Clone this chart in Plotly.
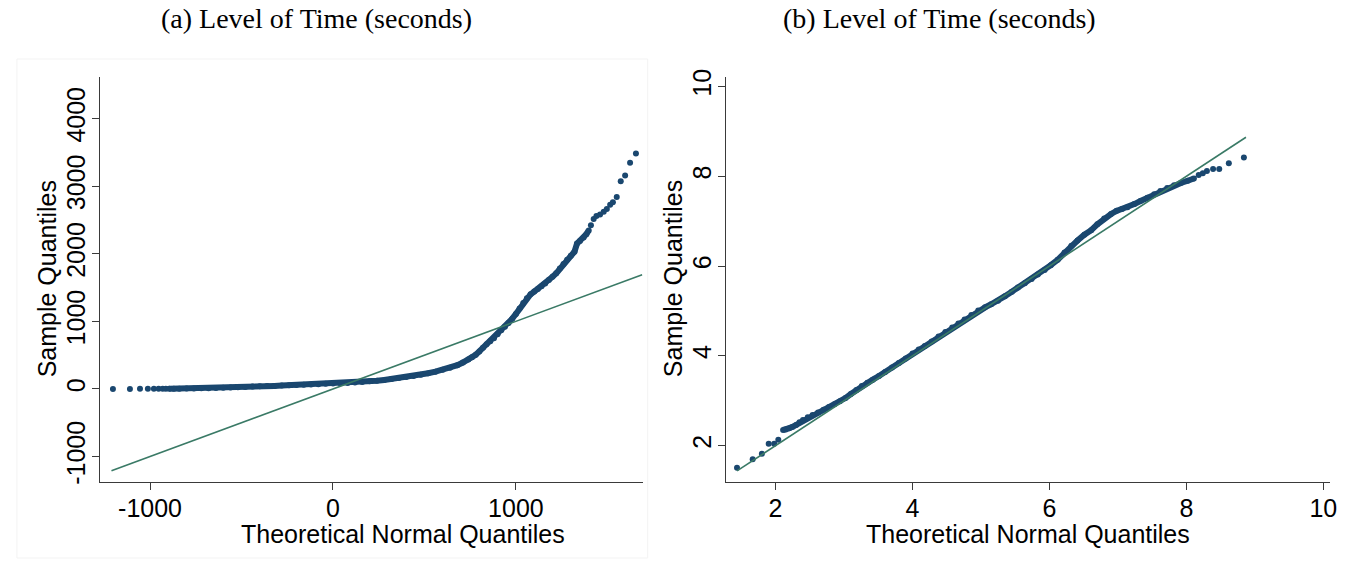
import plotly.graph_objects as go

# ---------------- data ----------------
# Panel (a): Level of Time (seconds)
a_theo = [-1203, -1110, -1055, -1012, -979, -953, -931, -914, -896,
          -870, -840, -800, -760, -720, -680, -640, -600, -560, -520,
          -480, -440, -400, -360, -320, -280, -240, -200, -160, -120,
          -80, -40, 0, 40, 80, 120, 160, 200, 240, 280, 320, 360, 400,
          440, 480, 520, 560, 600, 640, 680, 710, 740, 760, 780, 800,
          820, 840, 860, 880, 900, 920, 940, 960, 980, 1000, 1020, 1040,
          1060, 1080, 1100, 1120, 1140, 1160, 1180, 1200, 1220, 1240,
          1260, 1280, 1300, 1320, 1334, 1350, 1370, 1385, 1398, 1410,
          1425, 1440, 1460, 1480, 1497, 1515, 1530, 1551, 1573, 1597,
          1624, 1656]
a_samp = [0, 0, 1, 1, 1, 2, 2, 2, 2,
          3, 4, 5, 7, 9, 11, 13, 16, 20, 25,
          30, 35, 39, 42, 45, 49, 53, 57, 61, 66,
          71, 76, 80, 84, 88, 95, 103, 112, 122, 133, 147, 162, 177,
          193, 210, 232, 255, 283, 314, 352, 390, 435, 470, 505, 555,
          610, 660, 705, 748, 810, 870, 920, 975, 1040, 1110, 1190, 1270,
          1340, 1400, 1440, 1480, 1520, 1560, 1610, 1660, 1710, 1780,
          1850, 1910, 1970, 2030, 2150, 2190, 2240, 2290, 2345, 2420,
          2515, 2560, 2580, 2620, 2660, 2723, 2760, 2839, 3071, 3158,
          3347, 3483]
a_ref = [-1211, 1690]

# Panel (b): log level of time
b_theo = [1.437, 1.666, 1.80, 1.90, 1.98, 2.04,
          2.11, 2.15, 2.20, 2.25, 2.30, 2.35, 2.40, 2.47, 2.54, 2.62,
          2.70, 2.78, 2.86, 2.94, 3.02, 3.10, 3.18, 3.26, 3.34, 3.42,
          3.51, 3.60, 3.70, 3.80, 3.90, 4.00, 4.09, 4.18, 4.28, 4.38,
          4.48, 4.58, 4.67, 4.76, 4.86, 4.96, 5.06, 5.15, 5.25, 5.35,
          5.45, 5.54, 5.64, 5.74, 5.83, 5.93, 6.02, 6.12, 6.22, 6.32,
          6.41, 6.51, 6.61, 6.70, 6.80, 6.90, 6.98, 7.06, 7.14, 7.24,
          7.33, 7.43, 7.53, 7.62, 7.72, 7.82, 7.92, 8.02, 8.11,
          8.18, 8.24, 8.30, 8.39, 8.48, 8.62, 8.84]
b_samp = [1.51, 1.694, 1.82, 2.04, 2.04, 2.13,
          2.35, 2.36, 2.39, 2.42, 2.46, 2.52, 2.57, 2.63, 2.68, 2.74,
          2.80, 2.86, 2.92, 2.99, 3.06, 3.15, 3.24, 3.33, 3.40, 3.47,
          3.55, 3.64, 3.74, 3.84, 3.94, 4.05, 4.14, 4.22, 4.32, 4.43,
          4.53, 4.63, 4.72, 4.81, 4.91, 5.01, 5.08, 5.15, 5.23, 5.33,
          5.43, 5.52, 5.62, 5.71, 5.81, 5.91, 6.02, 6.14, 6.30, 6.45,
          6.57, 6.70, 6.80, 6.93, 7.06, 7.16, 7.23, 7.27, 7.31, 7.38,
          7.45, 7.52, 7.60, 7.67, 7.74, 7.80, 7.85, 7.90, 7.95,
          8.03, 8.07, 8.12, 8.16, 8.16, 8.29, 8.42]
b_ref = [1.437, 8.87]

a_yticks = [-1000, 0, 1000, 2000, 3000, 4000]
a_xticks = [-1000, 0, 1000]
b_yticks = [2, 4, 6, 8, 10]
b_xticks = [2, 4, 6, 8, 10]

titles = ["(a) Level of Time (seconds)", "(b) Level of Time (seconds)"]
xtitle = "Theoretical Normal Quantiles"
ytitle = "Sample Quantiles"

# ---------------- styling ----------------
W, H = 1369, 562
DOT = "#1a476f"
REF = "#3a7a66"
AX = "#3a3a3a"
FONT = "Liberation Sans, Arial, sans-serif"
FS = 25


def px(v):
    return v / W


def py(v):
    return 1 - v / H


def band(xs, ys, lo, hi):
    bx, by = [], []
    for x, y in zip(xs, ys):
        if lo <= x <= hi:
            bx.append(x)
            by.append(y)
    return bx, by


fig = go.Figure()

# panel (a)
abx, aby = band(a_theo, a_samp, -900, 1400)
fig.add_trace(go.Scatter(x=abx, y=aby, mode="lines", xaxis="x", yaxis="y",
                         line=dict(color=DOT, width=6), hoverinfo="skip", showlegend=False))
fig.add_trace(go.Scatter(x=a_theo, y=a_samp, mode="markers", xaxis="x", yaxis="y",
                         marker=dict(color=DOT, size=6, line=dict(width=0)), showlegend=False))
fig.add_trace(go.Scatter(x=a_ref, y=a_ref, mode="lines", xaxis="x", yaxis="y",
                         line=dict(color=REF, width=1.6), showlegend=False))

# panel (b)
bbx, bby = band(b_theo, b_samp, 2.1, 8.12)
fig.add_trace(go.Scatter(x=bbx, y=bby, mode="lines", xaxis="x2", yaxis="y2",
                         line=dict(color=DOT, width=6), hoverinfo="skip", showlegend=False))
fig.add_trace(go.Scatter(x=b_theo, y=b_samp, mode="markers", xaxis="x2", yaxis="y2",
                         marker=dict(color=DOT, size=6, line=dict(width=0)), showlegend=False))
fig.add_trace(go.Scatter(x=b_ref, y=b_ref, mode="lines", xaxis="x2", yaxis="y2",
                         line=dict(color=REF, width=1.6), showlegend=False))


def xax(dom, rng, ticks):
    return dict(domain=dom, range=rng, tickvals=ticks, ticktext=[str(t) for t in ticks],
                showgrid=False, zeroline=False, showline=True, linecolor=AX, linewidth=1,
                ticks="outside", ticklen=7, tickcolor=AX, tickwidth=1, ticklabelstandoff=-3,
                tickfont=dict(family=FONT, size=FS, color="black"))


def yax(dom, rng, ticks, anchor):
    return dict(domain=dom, range=rng, tickvals=ticks, ticktext=[str(t) for t in ticks],
                showgrid=False, zeroline=False, showline=True, linecolor=AX, linewidth=1,
                ticks="outside", ticklen=7, tickcolor=AX, tickwidth=1, tickangle=-90,
                ticklabelstandoff=-3,
                tickfont=dict(family=FONT, size=FS, color="black"), anchor=anchor)


ydom = [py(483), py(70)]
fig.update_layout(
    width=W, height=H, margin=dict(l=0, r=0, t=0, b=0),
    paper_bgcolor="white", plot_bgcolor="white",
    xaxis=dict(**xax([px(101), px(646)], [-1271, 1693], a_xticks), anchor="y"),
    yaxis=yax(ydom, [-1370, 4620], a_yticks, "x"),
    xaxis2=dict(**xax([px(730), px(1337)], [1.28, 10.1], b_xticks), anchor="y2"),
    yaxis2=yax(ydom, [1.2, 10.22], b_yticks, "x2"),
)

ann = []
for t, cx in zip(titles, [318, 944]):
    ann.append(dict(text=t, x=px(cx), y=py(11), xref="paper", yref="paper",
                    xanchor="center", yanchor="middle", showarrow=False,
                    font=dict(family="Liberation Serif, Times New Roman, serif", size=28, color="black")))
for cx in [405, 1033]:
    ann.append(dict(text=xtitle, x=px(cx), y=py(536), xref="paper", yref="paper",
                    xanchor="center", yanchor="middle", showarrow=False,
                    font=dict(family=FONT, size=FS, color="black")))
for cx, cy in [(47, 276), (676, 276)]:
    ann.append(dict(text=ytitle, x=px(cx), y=py(cy), xref="paper", yref="paper",
                    xanchor="center", yanchor="middle", showarrow=False, textangle=-90,
                    font=dict(family=FONT, size=FS, color="black")))
fig.update_layout(annotations=ann)

fig.add_shape(type="rect", xref="paper", yref="paper",
              x0=px(17), x1=px(651), y0=py(561), y1=py(52),
              line=dict(color="#f3f3f3", width=1), layer="below")

fig.write_html("out.html")
